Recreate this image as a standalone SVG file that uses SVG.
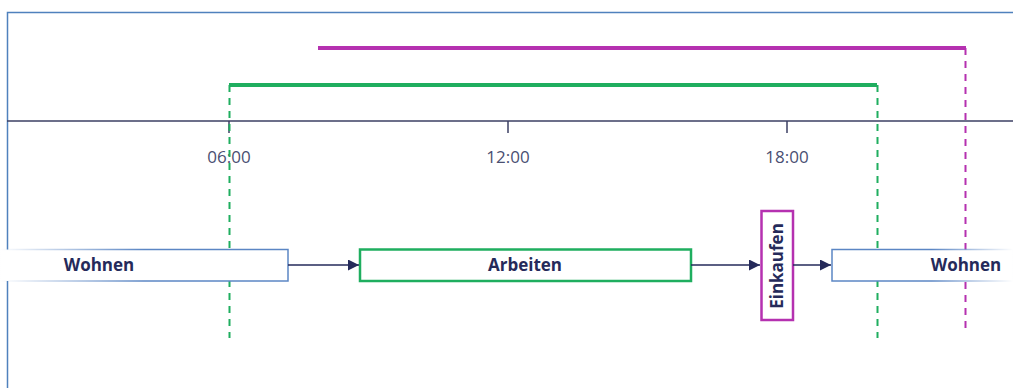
<svg xmlns="http://www.w3.org/2000/svg" width="1013" height="388" viewBox="0 0 1013 388">
<defs>
<style>
.lbl{font-family:"Open Sans","Liberation Sans",sans-serif;font-weight:700;font-size:17px;fill:#252a5a}
.tick{font-family:"Open Sans","Liberation Sans",sans-serif;font-size:17px;fill:#4a4f72}
.conn{stroke:#252a5a;stroke-width:1.5;fill:none}
</style>
<marker id="ah" viewBox="0 0 10 10" refX="10" refY="5" markerWidth="11" markerHeight="11" markerUnits="userSpaceOnUse" orient="auto">
<path d="M0,0 L10,5 L0,10 z" fill="#252a5a"/>
</marker>
<linearGradient id="fadeL" x1="0" y1="0" x2="1" y2="0">
<stop offset="0" stop-color="#5b86c4" stop-opacity="0"/>
<stop offset="0.5" stop-color="#5b86c4" stop-opacity="1"/>
</linearGradient>
<linearGradient id="fadeR" x1="0" y1="0" x2="1" y2="0">
<stop offset="0.55" stop-color="#5b86c4" stop-opacity="1"/>
<stop offset="1" stop-color="#5b86c4" stop-opacity="0"/>
</linearGradient>
</defs>
<rect width="1013" height="388" fill="#ffffff"/>
<g id="frame">
<path d="M7.5,388 V12.5 H1013" fill="none" stroke="#4f81bd" stroke-width="1.5"/>
</g>
<g id="axis">
<line x1="7" y1="121" x2="1013" y2="121" stroke="#3b3f63" stroke-width="1.5"/>
<line x1="229" y1="121" x2="229" y2="133" stroke="#3b3f63" stroke-width="1.5"/>
<line x1="508" y1="121" x2="508" y2="133" stroke="#3b3f63" stroke-width="1.5"/>
<line x1="787" y1="121" x2="787" y2="133" stroke="#3b3f63" stroke-width="1.5"/>
<text class="tick" x="229" y="163" text-anchor="middle">06:00</text>
<text class="tick" x="508" y="163" text-anchor="middle">12:00</text>
<text class="tick" x="787" y="163" text-anchor="middle">18:00</text>
</g>
<g id="span-green">
<line x1="229" y1="85" x2="877" y2="85" stroke="#1fae5f" stroke-width="4"/>
<path d="M229.5,85 V338 M877.5,85 V338" stroke="#1fae5f" stroke-width="2" stroke-dasharray="7,6" fill="none"/>
</g>
<g id="span-magenta">
<line x1="318" y1="48" x2="966" y2="48" stroke="#b531b0" stroke-width="4"/>
<path d="M965.5,48 V334" stroke="#b531b0" stroke-width="2" stroke-dasharray="7,6" fill="none"/>
</g>
<g id="wohnen-left">
<rect x="0" y="249.5" width="288" height="31.5" fill="#ffffff" stroke="url(#fadeL)" stroke-width="1.5"/>
<text class="lbl" x="99" y="271" text-anchor="middle">Wohnen</text>
</g>
<g id="arbeiten">
<rect x="360" y="249.5" width="331" height="31.5" fill="#ffffff" stroke="#1fae5f" stroke-width="2.5"/>
<text class="lbl" x="525" y="271" text-anchor="middle">Arbeiten</text>
</g>
<g id="einkaufen">
<rect x="761.5" y="211" width="31.5" height="109" fill="#ffffff" stroke="#b531b0" stroke-width="2.5"/>
<text class="lbl" x="0" y="0" text-anchor="middle" transform="translate(783,266) rotate(-90)">Einkaufen</text>
</g>
<g id="wohnen-right">
<rect x="832" y="249.5" width="181" height="31.5" fill="#ffffff" stroke="url(#fadeR)" stroke-width="1.5"/>
<text class="lbl" x="966" y="271" text-anchor="middle">Wohnen</text>
</g>
<g id="connectors">
<line class="conn" x1="288" y1="265" x2="359" y2="265" marker-end="url(#ah)"/>
<line class="conn" x1="691" y1="265" x2="760" y2="265" marker-end="url(#ah)"/>
<line class="conn" x1="793" y1="265" x2="831" y2="265" marker-end="url(#ah)"/>
</g>
</svg>
